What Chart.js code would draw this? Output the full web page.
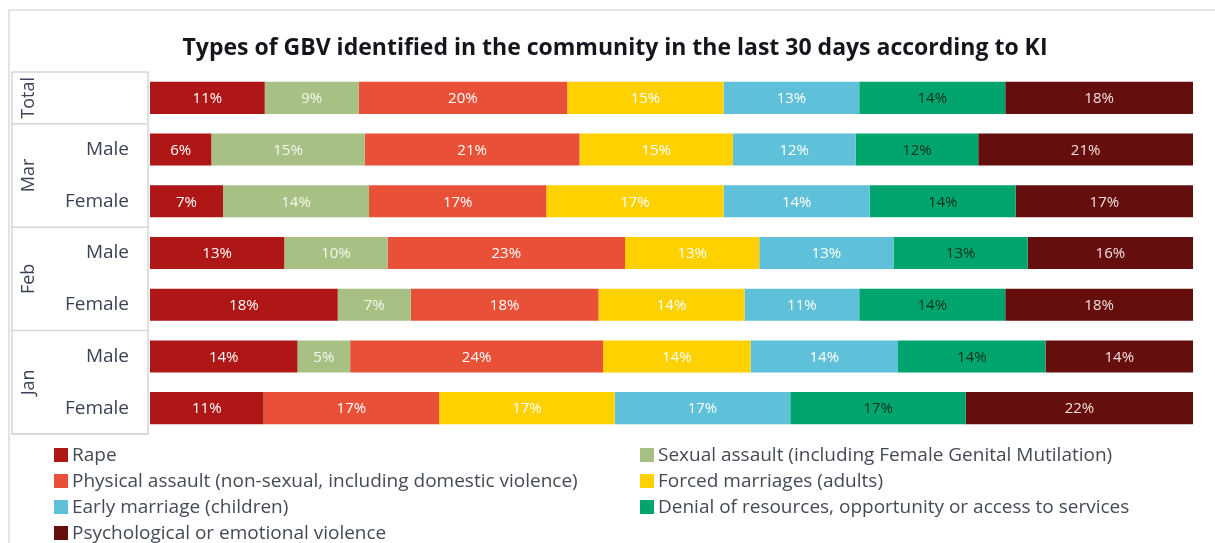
<!DOCTYPE html>
<html>
<head>
<meta charset="utf-8">
<script src="https://cdn.jsdelivr.net/npm/chart.js@4"></script>
<style>
  html, body { margin: 0; padding: 0; background: #fff; }
  #wrap { width: 1215px; height: 543px; position: relative; }
</style>
</head>
<body>
<div id="wrap"><canvas id="bar-chart"></canvas></div>
<script>
const chartTitle = 'Types of GBV identified in the community in the last 30 days according to KI';
const rowLabels = ['Total', 'Male', 'Female', 'Male', 'Female', 'Male', 'Female'];
const groups = [
    {name: 'Total', from: 0, to: 0},
    {name: 'Mar', from: 1, to: 2},
    {name: 'Feb', from: 3, to: 4},
    {name: 'Jan', from: 5, to: 6},
];
const seriesNames = [
    'Rape',
    'Sexual assault (including Female Genital Mutilation)',
    'Physical assault (non-sexual, including domestic violence)',
    'Forced marriages (adults)',
    'Early marriage (children)',
    'Denial of resources, opportunity or access to services',
    'Psychological or emotional violence',
];
const seriesColors = ['#AF1616', '#A7C084', '#E85037', '#FFD100', '#5FC1D9', '#00A56E', '#650E0E'];
const labelColors = ['#ffffff', '#f4f8ec', '#ffffff', '#ffffff', '#ffffff', '#10301f', '#f3dede'];

// rows: Total, Mar M, Mar F, Feb M, Feb F, Jan M, Jan F
const rape          = [11, 6, 7, 13, 18, 14, 11];
const sexualAssault = [9, 15, 14, 10, 7, 5, 0];
const physical      = [20, 21, 17, 23, 18, 24, 17];
const forced        = [15, 15, 17, 13, 14, 14, 17];
const early         = [13, 12, 14, 13, 11, 14, 17];
const denial        = [14, 12, 14, 13, 14, 14, 17];
const psych         = [18, 21, 17, 16, 18, 14, 22];

const series = [rape, sexualAssault, physical, forced, early, denial, psych];
const rowSums = rowLabels.map((_, i) => series.reduce((s, arr) => s + arr[i], 0));

const FONT = 'Open Sans';

// percentages drawn inside each segment
const segmentLabels = {
    id: 'segmentLabels',
    afterDatasetsDraw(chart) {
        const ctx = chart.ctx;
        ctx.save();
        ctx.font = '15px "' + FONT + '"';
        ctx.textAlign = 'center';
        ctx.textBaseline = 'middle';
        chart.data.datasets.forEach((ds, di) => {
            chart.getDatasetMeta(di).data.forEach((bar, i) => {
                const v = ds.raw[i];
                if (!v) return;
                ctx.fillStyle = labelColors[di];
                ctx.fillText(v + '%', (bar.x + bar.base) / 2, bar.y + 1);
            });
        });
        ctx.restore();
    }
};

// title, frame, row table on the left and the legend underneath
const decorations = {
    id: 'decorations',
    afterDraw(chart) {
        const ctx = chart.ctx;
        const y = chart.scales.y;
        const step = y.getPixelForValue(1) - y.getPixelForValue(0);
        const top = y.getPixelForValue(0) - step / 2;
        const bottom = y.getPixelForValue(rowLabels.length - 1) + step / 2;
        ctx.save();

        // title
        ctx.fillStyle = '#15151c';
        ctx.font = 'bold 23px "' + FONT + '"';
        ctx.textAlign = 'center';
        ctx.textBaseline = 'middle';
        ctx.fillText(chartTitle, 615, 48);

        // outer frame
        ctx.strokeStyle = '#dcdcdc';
        ctx.lineWidth = 1.5;
        ctx.beginPath();
        ctx.moveTo(9, 543);
        ctx.lineTo(9, 10);
        ctx.lineTo(1215, 10);
        ctx.stroke();

        // table
        ctx.strokeStyle = '#d6d6d6';
        ctx.strokeRect(12, top, 136, bottom - top);
        groups.forEach(g => {
            const gy = y.getPixelForValue(g.to) + step / 2;
            ctx.beginPath();
            ctx.moveTo(12, gy);
            ctx.lineTo(148, gy);
            ctx.stroke();
        });

        ctx.fillStyle = '#3a4255';
        ctx.font = '19px "' + FONT + '"';
        ctx.textAlign = 'right';
        rowLabels.forEach((l, i) => {
            if (i === 0) return;
            ctx.fillText(l, 129, y.getPixelForValue(i));
        });
        ctx.font = '18px "' + FONT + '"';
        ctx.textAlign = 'center';
        groups.forEach(g => {
            const cy = (y.getPixelForValue(g.from) + y.getPixelForValue(g.to)) / 2;
            ctx.save();
            ctx.translate(29, cy);
            ctx.rotate(-Math.PI / 2);
            ctx.fillText(g.name, 0, 0);
            ctx.restore();
        });

        // legend in two columns
        ctx.font = '19px "' + FONT + '"';
        ctx.textAlign = 'left';
        chart.data.datasets.forEach((ds, i) => {
            const col = i % 2;
            const row = Math.floor(i / 2);
            const lx = col === 0 ? 54 : 640;
            const ly = 455 + row * 26;
            ctx.fillStyle = ds.backgroundColor;
            ctx.fillRect(lx, ly - 7, 14, 14);
            ctx.fillStyle = '#444a55';
            ctx.fillText(ds.label, lx + 18, ly + 1);
        });
        ctx.restore();
    }
};

const ctx = document.getElementById('bar-chart').getContext('2d');
const myChart = new Chart(ctx, {
    type: 'bar',
    data: {
        labels: rowLabels,
        datasets: series.map((vals, i) => ({
            label: seriesNames[i],
            raw: vals,
            data: vals.map((v, r) => v / rowSums[r] * 100),
            backgroundColor: seriesColors[i],
            borderWidth: 0,
            barPercentage: 0.62,
            categoryPercentage: 1,
        })),
    },
    options: {
        indexAxis: 'y',
        responsive: true,
        maintainAspectRatio: false,
        animation: false,
        layout: {padding: {left: 150, right: 22, bottom: 109, top: 72}},
        plugins: {
            legend: {display: false},
            tooltip: {enabled: false},
            title: {display: false},
        },
        scales: {
            x: {stacked: true, display: false, min: 0, max: 100, grid: {display: false}},
            y: {stacked: true, display: false, grid: {display: false}},
        },
    },
    plugins: [segmentLabels, decorations],
});
</script>
</body>
</html>
